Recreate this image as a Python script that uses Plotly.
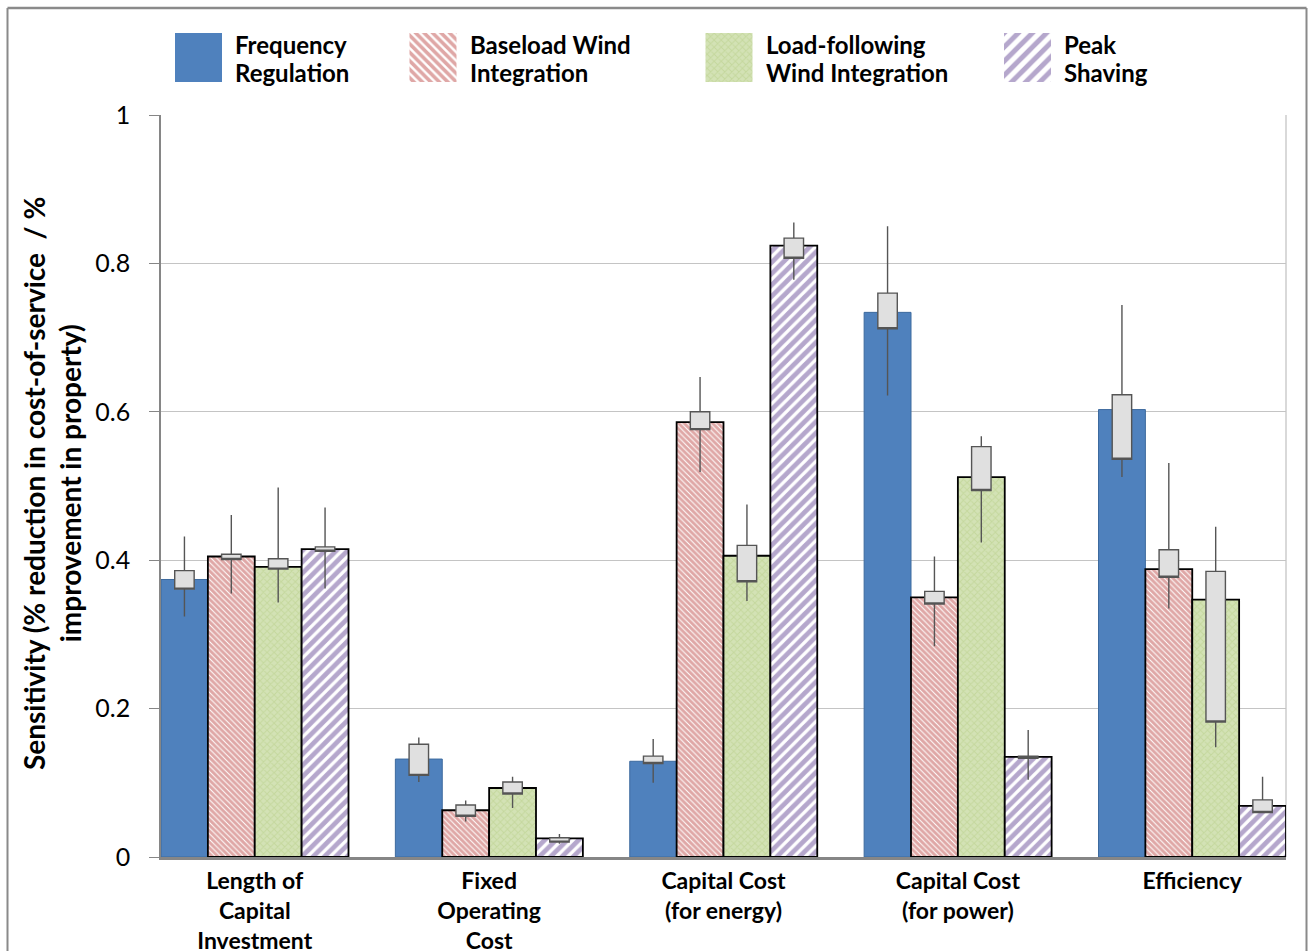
import plotly.graph_objects as go

# ---------------- data ----------------
CATEGORIES = ["Length of<br>Capital<br>Investment", "Fixed<br>Operating<br>Cost",
              "Capital Cost<br>(for energy)", "Capital Cost<br>(for power)", "Efficiency"]
SERIES = ["Frequency Regulation", "Baseload Wind Integration",
          "Load-following Wind Integration", "Peak Shaving"]
LEGEND_LINES = [["Frequency", "Regulation"], ["Baseload Wind", "Integration"],
                ["Load-following", "Wind Integration"], ["Peak", "Shaving"]]

BAR_FR = [0.374, 0.132, 0.129, 0.734, 0.603]
BAR_BW = [0.405, 0.063, 0.586, 0.350, 0.388]
BAR_LF = [0.391, 0.093, 0.406, 0.512, 0.347]
BAR_PS = [0.415, 0.025, 0.824, 0.135, 0.069]

BOX_LO_FR = [0.361, 0.110, 0.126, 0.712, 0.536]
BOX_LO_BW = [0.401, 0.055, 0.576, 0.341, 0.377]
BOX_LO_LF = [0.388, 0.085, 0.371, 0.494, 0.182]
BOX_LO_PS = [0.412, 0.020, 0.807, 0.133, 0.060]

BOX_HI_FR = [0.386, 0.152, 0.136, 0.760, 0.623]
BOX_HI_BW = [0.408, 0.070, 0.600, 0.358, 0.414]
BOX_HI_LF = [0.402, 0.101, 0.420, 0.553, 0.385]
BOX_HI_PS = [0.418, 0.026, 0.834, 0.136, 0.077]

WHISK_LO_FR = [0.324, 0.101, 0.100, 0.622, 0.512]
WHISK_LO_BW = [0.355, 0.048, 0.519, 0.284, 0.335]
WHISK_LO_LF = [0.343, 0.066, 0.345, 0.424, 0.148]
WHISK_LO_PS = [0.362, 0.018, 0.778, 0.104, 0.060]

WHISK_HI_FR = [0.432, 0.161, 0.159, 0.850, 0.744]
WHISK_HI_BW = [0.461, 0.076, 0.647, 0.405, 0.531]
WHISK_HI_LF = [0.498, 0.108, 0.475, 0.567, 0.445]
WHISK_HI_PS = [0.471, 0.031, 0.855, 0.171, 0.108]

Y_TICKS = [0, 0.2, 0.4, 0.6, 0.8, 1]
Y_TICK_TEXT = ["0", "0.2", "0.4", "0.6", "0.8", "1"]

# ---------------- style ----------------
W, H = 1312, 951
FONT = "Lato"
PLOT_L, PLOT_R, PLOT_T, PLOT_B = 161, 1286, 115, 857

BAR_STYLES = [
    dict(color="#4f81bd", pattern=dict(shape=""), line=dict(color="#3d6a9e", width=1)),
    dict(color="white", pattern=dict(shape="\\", fgcolor="#c0504d", bgcolor="white", size=4, solidity=0.75),
         line=dict(color="black", width=1.8)),
    dict(color="#d3e2b5", pattern=dict(shape="x", fgcolor="#b6cd86", bgcolor="#d3e2b5", size=5, solidity=0.35),
         line=dict(color="black", width=1.8)),
    dict(color="white", pattern=dict(shape="/", fgcolor="#6c4f9a", bgcolor="white", size=8, solidity=0.6),
         line=dict(color="black", width=1.8)),
]
SWATCH_PATTERNS = [
    dict(shape=""),
    dict(shape="\\", fgcolor="#c0504d", bgcolor="white", size=6, solidity=0.6),
    dict(shape="x", fgcolor="#b6cd86", bgcolor="#d3e2b5", size=5, solidity=0.35),
    dict(shape="/", fgcolor="#6c4f9a", bgcolor="white", size=10, solidity=0.5),
]
SWATCH_COLORS = ["#4f81bd", "white", "#d3e2b5", "white"]

bars = [BAR_FR, BAR_BW, BAR_LF, BAR_PS]
box_lo = [BOX_LO_FR, BOX_LO_BW, BOX_LO_LF, BOX_LO_PS]
box_hi = [BOX_HI_FR, BOX_HI_BW, BOX_HI_LF, BOX_HI_PS]
wlo = [WHISK_LO_FR, WHISK_LO_BW, WHISK_LO_LF, WHISK_LO_PS]
whi = [WHISK_HI_FR, WHISK_HI_BW, WHISK_HI_LF, WHISK_HI_PS]

fig = go.Figure()
xs = list(range(len(CATEGORIES)))
BAR_W = 0.2
for k, name in enumerate(SERIES):
    st = BAR_STYLES[k]
    fig.add_trace(go.Bar(
        x=xs, y=bars[k], name=name, width=BAR_W, offset=-0.4 + k * BAR_W,
        marker=dict(color=st["color"], pattern=st["pattern"], line=st["line"]),
        showlegend=False, hoverinfo="skip"))

for k, name in enumerate(SERIES):
    centers = [x - 0.4 + (k + 0.5) * BAR_W for x in xs]
    fig.add_trace(go.Box(
        x=centers, q1=box_lo[k], median=box_lo[k], q3=box_hi[k],
        lowerfence=wlo[k], upperfence=whi[k], width=0.083, whiskerwidth=0,
        fillcolor="#e0e0e0", line=dict(color="#555555", width=1.4),
        showlegend=False, hoverinfo="skip"))

# custom legend swatches (large patterned blocks) on a hidden helper axis
LEG_SWATCH_X = [198.5, 433, 729, 1027.5]
LEG_TEXT_X = [233, 468, 764, 1062]
for k, name in enumerate(SERIES):
    fig.add_trace(go.Bar(
        x=[LEG_SWATCH_X[k]], y=[1], width=47, offset=-23.5, xaxis="x2", yaxis="y2",
        marker=dict(color=SWATCH_COLORS[k], pattern=SWATCH_PATTERNS[k], line=dict(width=0)),
        showlegend=False, hoverinfo="skip"))

annotations = []
for k, lines in enumerate(LEGEND_LINES):
    for j, t in enumerate(lines):
        annotations.append(dict(
            text=t, x=LEG_TEXT_X[k] / W, y=1 - (44 + 29 * j) / H, xref="paper", yref="paper",
            xanchor="left", yanchor="middle", showarrow=False,
            font=dict(family=FONT, size=24, color="black", weight="bold")))

annotations.append(dict(
    text="Sensitivity (% reduction in cost-of-service  / %<br>improvement in property)",
    x=52 / W, y=1 - 484 / H, xref="paper", yref="paper", textangle=-90,
    xanchor="center", yanchor="middle", showarrow=False,
    font=dict(family=FONT, size=28, color="black", weight="bold")))

FRAME_X0, FRAME_X1, FRAME_TOP = 7.5 / W, 1306.5 / W, 1 - 8 / H
shapes = [
    dict(type="line", xref="paper", yref="paper", x0=FRAME_X0, x1=FRAME_X0, y0=-0.05, y1=FRAME_TOP,
         line=dict(color="#8a8a8a", width=2)),
    dict(type="line", xref="paper", yref="paper", x0=FRAME_X1, x1=FRAME_X1, y0=-0.05, y1=FRAME_TOP,
         line=dict(color="#8a8a8a", width=2)),
    dict(type="line", xref="paper", yref="paper", x0=FRAME_X0, x1=FRAME_X1, y0=FRAME_TOP, y1=FRAME_TOP,
         line=dict(color="#8a8a8a", width=2.5)),
    dict(type="line", xref="x domain", yref="y domain", x0=1, x1=1, y0=0, y1=1,
         line=dict(color="#c0c0c0", width=1.2), layer="below"),
]

fig.update_layout(
    width=W, height=H,
    margin=dict(l=0, r=0, t=0, b=0, pad=0, autoexpand=False),
    paper_bgcolor="white", plot_bgcolor="white",
    barmode="overlay",
    boxmode="overlay",
    xaxis=dict(domain=[PLOT_L / W, PLOT_R / W], range=[-0.4, 4.4], automargin=False,
               tickvals=xs, ticktext=CATEGORIES, showgrid=False, zeroline=False,
               showline=True, linecolor="#868686", linewidth=2.5, ticks="",
               ticklabelstandoff=2,
               tickfont=dict(family=FONT, size=23, color="black", weight="bold")),
    yaxis=dict(domain=[1 - PLOT_B / H, 1 - PLOT_T / H], range=[0, 1], automargin=False,
               tickvals=Y_TICKS, ticktext=Y_TICK_TEXT,
               showgrid=True, gridcolor="#c4c4c4", gridwidth=1, zeroline=False,
               showline=True, linecolor="#868686", linewidth=1.5,
               ticks="outside", ticklen=10, tickcolor="#868686", ticklabelstandoff=14,
               tickfont=dict(family=FONT, size=25, color="black")),
    xaxis2=dict(domain=[0, 1], range=[0, W], visible=False, anchor="y2", fixedrange=True, automargin=False),
    yaxis2=dict(domain=[1 - 82 / H, 1 - 33 / H], range=[0, 1], visible=False, anchor="x2",
                fixedrange=True, automargin=False),
    annotations=annotations,
    shapes=shapes,
)

fig.write_html("out.html", config={"displayModeBar": False},
               post_script="document.body.style.margin='0';")
